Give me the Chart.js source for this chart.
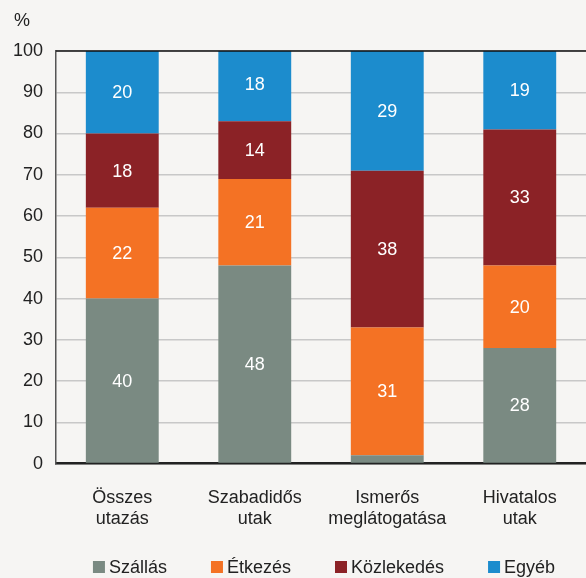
<!DOCTYPE html>
<html>
<head>
<meta charset="utf-8">
<script src="https://cdn.jsdelivr.net/npm/chart.js"></script>
<style>
  html, body { margin: 0; padding: 0; background: #f6f5f3; }
  #wrap { width: 586px; height: 578px; }
</style>
</head>
<body>
<div id="wrap"><canvas id="chart" width="586" height="578"></canvas></div>
<script>
// kategóriák és sorozatok (%)
const categories = [['Összes', 'utazás'], ['Szabadidős', 'utak'], ['Ismerős', 'meglátogatása'], ['Hivatalos', 'utak']];
const szallas = [40, 48, 2, 28];
const etkezes = [22, 21, 31, 20];
const kozlekedes = [18, 14, 38, 33];
const egyeb = [20, 18, 29, 19];
const yTicks = [0, 10, 20, 30, 40, 50, 60, 70, 80, 90, 100];

const FONT = '"Liberation Sans", Arial, sans-serif';

// fehér értékcímkék a szegmensek közepén
const segmentLabels = {
  id: 'segmentLabels',
  afterDatasetsDraw(chart) {
    const ctx = chart.ctx;
    ctx.save();
    ctx.fillStyle = '#ffffff';
    ctx.font = '18px ' + FONT;
    ctx.textAlign = 'center';
    ctx.textBaseline = 'middle';
    chart.data.datasets.forEach((ds, i) => {
      chart.getDatasetMeta(i).data.forEach((bar, j) => {
        const v = ds.data[j];
        if (v < 5) return;
        ctx.fillText(String(v), bar.x, (bar.y + bar.base) / 2 + 1);
      });
    });
    ctx.restore();
  }
};

// "%" felirat, felső keretvonal és jelmagyarázat
const frame = {
  id: 'frame',
  afterDraw(chart) {
    const { ctx, chartArea } = chart;
    ctx.save();
    ctx.strokeStyle = '#111';
    ctx.lineWidth = 1.5;
    ctx.beginPath();
    ctx.moveTo(chartArea.left, chartArea.top);
    ctx.lineTo(chartArea.right, chartArea.top);
    ctx.stroke();

    ctx.fillStyle = '#222';
    ctx.font = '18px ' + FONT;
    ctx.textAlign = 'center';
    ctx.textBaseline = 'middle';
    ctx.fillText('%', 22, 21);

    // jelmagyarázat egy sorban
    const box = 12, gap = 4, spacing = 44, y = 567;
    const items = chart.data.datasets.map(ds => ({
      label: ds.label, color: ds.backgroundColor, w: ctx.measureText(ds.label).width
    }));
    const total = items.reduce((s, it) => s + box + gap + it.w, 0) + spacing * (items.length - 1);
    let x = (chartArea.left + chartArea.right) / 2 - total / 2 + 3;
    ctx.textAlign = 'left';
    items.forEach(it => {
      ctx.fillStyle = it.color;
      ctx.fillRect(x, y - box / 2, box, box);
      ctx.fillStyle = '#222';
      ctx.fillText(it.label, x + box + gap, y + 1);
      x += box + gap + it.w + spacing;
    });
    ctx.restore();
  }
};

new Chart(document.getElementById('chart'), {
  type: 'bar',
  data: {
    labels: categories,
    datasets: [
      { label: 'Szállás', data: szallas, backgroundColor: '#7a8a82' },
      { label: 'Étkezés', data: etkezes, backgroundColor: '#f47224' },
      { label: 'Közlekedés', data: kozlekedes, backgroundColor: '#8b2226' },
      { label: 'Egyéb', data: egyeb, backgroundColor: '#1c8ccd' }
    ]
  },
  options: {
    responsive: false,
    animation: false,
    layout: { padding: { top: 51, right: 0, left: 0, bottom: 33 } },
    datasets: { bar: { categoryPercentage: 1, barPercentage: 0.55 } },
    scales: {
      x: {
        stacked: true,
        grid: { display: false },
        border: { color: '#222', width: 2.5 },
        ticks: { color: '#222', font: { family: FONT, size: 18, lineHeight: 1.15 }, padding: 16, maxRotation: 0 }
      },
      y: {
        stacked: true,
        min: 0,
        max: 100,
        afterBuildTicks(axis) { axis.ticks = yTicks.map(v => ({ value: v })); },
        grid: { color: '#c8c8c8', lineWidth: 1.5, drawTicks: false },
        border: { color: '#555', width: 1.5 },
        ticks: { color: '#222', font: { family: FONT, size: 18 }, padding: 13 }
      }
    },
    plugins: {
      legend: { display: false },
      tooltip: { enabled: false }
    }
  },
  plugins: [segmentLabels, frame]
});
</script>
</body>
</html>
